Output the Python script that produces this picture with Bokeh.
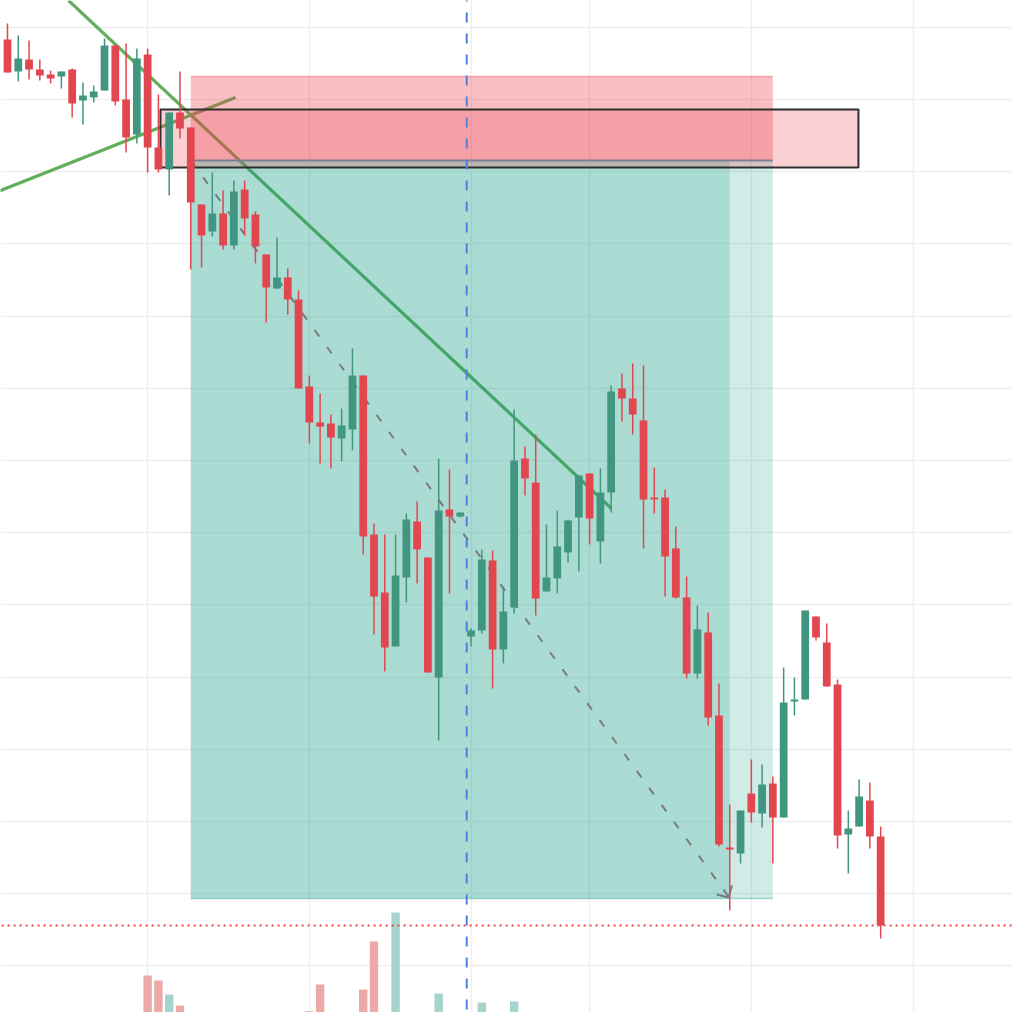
from bokeh.plotting import figure
from bokeh.models import Range1d, FixedTicker, ColumnDataSource
from bokeh.embed import file_html
from bokeh.resources import INLINE

# ---------------- data ----------------
opens = [106.1, 102.9, 104.1, 103.1, 102.6, 102.4, 103.1, 100.0, 100.3, 101.0,
         105.5, 100.1, 96.6, 104.6, 95.3, 93.1, 98.8, 97.3, 89.6, 86.9,
         88.7, 85.5, 91.1, 88.6, 84.6, 81.2, 82.3, 80.1, 71.4, 67.8,
         67.7, 66.2, 67.1, 72.5, 56.6, 50.8, 45.4, 52.3, 57.9, 54.3,
         42.3, 59.1, 58.4, 46.4, 47.0, 54.0, 45.1, 49.3, 64.2, 61.8,
         50.9, 52.2, 54.8, 58.3, 62.7, 55.9, 60.8, 71.2, 70.2, 68.0,
         60.3, 60.3, 55.2, 50.3, 42.7, 46.8, 38.5, 25.3, 24.7, 30.7,
         28.7, 31.7, 28.3, 39.9, 40.1, 48.4, 45.8, 41.6, 26.6, 27.4,
         30.0, 26.4]
highs = [107.7, 106.5, 106.0, 104.1, 103.0, 102.9, 103.2, 101.8, 101.5, 106.2,
         105.5, 105.7, 105.2, 105.2, 100.6, 98.8, 102.9, 97.3, 89.6, 92.8,
         91.0, 92.0, 92.0, 88.9, 84.6, 86.3, 83.2, 81.0, 72.5, 70.7,
         68.6, 69.2, 75.2, 72.5, 57.7, 56.6, 56.6, 58.7, 59.9, 54.3,
         64.2, 63.1, 58.8, 47.2, 55.1, 55.0, 51.4, 69.1, 65.4, 66.6,
         57.6, 59.0, 58.1, 62.5, 62.7, 63.2, 71.5, 72.7, 73.7, 73.5,
         63.3, 61.1, 57.4, 52.4, 49.5, 48.8, 41.7, 29.6, 29.0, 34.1,
         33.6, 32.4, 43.3, 42.3, 49.0, 48.4, 47.7, 42.1, 29.0, 32.1,
         31.8, 27.4]
lows = [102.8, 101.9, 102.1, 102.0, 101.7, 101.2, 98.3, 97.6, 99.8, 101.0,
        99.5, 94.8, 95.7, 92.8, 92.8, 90.5, 96.2, 83.1, 83.3, 86.4,
        85.1, 85.1, 86.5, 83.7, 77.8, 81.2, 78.6, 71.2, 65.7, 63.7,
        63.2, 63.9, 65.0, 54.6, 46.6, 42.9, 45.4, 49.8, 51.7, 42.8,
        36.0, 50.7, 58.3, 45.4, 46.7, 41.2, 43.7, 48.7, 60.5, 48.5,
        50.9, 50.7, 53.8, 52.9, 55.6, 53.7, 58.8, 67.9, 66.6, 55.2,
        58.7, 50.4, 50.2, 42.2, 42.2, 37.5, 25.4, 19.0, 23.7, 27.8,
        27.3, 23.7, 28.3, 38.5, 40.1, 46.0, 41.4, 25.2, 22.7, 27.4,
        25.2, 16.2]
closes = [102.8, 104.2, 103.1, 102.5, 102.2, 102.9, 99.7, 100.5, 100.9, 105.5,
          99.9, 96.3, 104.2, 95.3, 93.1, 98.8, 97.2, 89.8, 86.5, 88.7,
          85.5, 90.9, 88.2, 85.4, 81.3, 82.3, 80.1, 71.2, 67.8, 67.4,
          66.3, 67.5, 72.5, 56.4, 50.4, 45.3, 52.5, 58.1, 55.1, 42.8,
          59.0, 58.4, 58.8, 47.0, 54.1, 45.1, 48.9, 64.0, 62.2, 50.2,
          52.3, 55.4, 58.0, 62.5, 58.2, 60.8, 70.9, 70.2, 68.6, 60.1,
          60.1, 54.4, 50.3, 42.7, 47.1, 38.3, 25.6, 25.1, 29.0, 28.8,
          31.6, 28.3, 39.8, 40.1, 49.0, 46.3, 41.4, 26.5, 27.2, 30.4,
          26.4, 17.5]
volumes = [30, 22, 18, 15, 12, 14, 28, 25, 16, 34,
           36, 31, 34, 66.5, 63.8, 56.4, 50.5, 35, 32, 20,
           24, 22, 19, 26, 30, 18, 24, 33, 47.5, 61.7,
           34, 26, 36, 59.0, 84.6, 41.0, 100, 35, 28, 32,
           56.9, 33, 14, 22, 52.1, 37, 28, 52.7, 27, 36,
           22, 24, 18, 28, 26, 30, 30, 24, 26, 34,
           18, 30, 28, 35, 30, 36, 33, 43.6, 35, 28,
           25, 30, 31, 20, 34, 22, 26, 29, 24, 22,
           26, 36]

# drawing tools (bar index, price)
stop_top = 102.4
entry_price = 94.0
target_price = 20.2
pos_start, pos_hit, pos_end = 17, 67, 71
rect_left, rect_right, rect_bottom, rect_top = 14.19, 78.94, 93.3, 99.1
trend_a = ([5.66, 56.03], [110.0, 59.2])
trend_b = ([-1.0, 21.15], [90.85, 100.3])
cursor_bar = 42.6
last_price = 17.5
price_grid = [107.3, 100.1, 92.9, 85.7, 78.4, 71.2, 64.0, 56.8, 49.6, 42.3, 35.1, 27.9, 20.7, 13.5]
time_grid = [13, 28, 43, 54, 69, 84]

UP = "#41967F"
DOWN = "#E2474F"
UP_VOL = "#A5D4CD"
DOWN_VOL = "#EBAAA8"

n = len(opens)
idx = list(range(n))
is_up = [c >= o for o, c in zip(opens, closes)]
tops, bots = [], []
for o, c in zip(opens, closes):
    t, b = max(o, c), min(o, c)
    if t - b < 0.15:
        m = (t + b) / 2
        t, b = m + 0.08, m - 0.08
    tops.append(t)
    bots.append(b)
colors = [UP if u else DOWN for u in is_up]
vcolors = [UP_VOL if u else DOWN_VOL for u in is_up]

src = ColumnDataSource(dict(x=idx, o=opens, h=highs, l=lows, c=closes,
                            top=tops, bot=bots, color=colors,
                            vol=volumes, vcolor=vcolors))

p = figure(width=1012, height=1012, output_backend="svg", toolbar_location=None,
           x_range=Range1d(-0.649, 93.23), y_range=Range1d(8.8, 110.0),
           min_border=0)
p.xaxis.visible = False
p.yaxis.visible = False
p.outline_line_color = None
p.background_fill_color = "white"
p.border_fill_color = "white"
p.xgrid.ticker = FixedTicker(ticks=time_grid)
p.ygrid.ticker = FixedTicker(ticks=price_grid)
p.xgrid.grid_line_color = "#EEEEEE"
p.ygrid.grid_line_color = "#EEEEEE"
p.xgrid.grid_line_width = 1.5
p.ygrid.grid_line_width = 1.5

p.extra_y_ranges = {"vol": Range1d(46.81, 585.11)}

# volume
p.vbar(x="x", top="vol", bottom=0, width=0.78, fill_color="vcolor",
       line_color=None, source=src, y_range_name="vol")

# trend lines (under the position overlays)
p.line(trend_a[0], trend_a[1], line_color="#62AE5C", line_width=3.2)
p.line(trend_b[0], trend_b[1], line_color="#62AE5C", line_width=3.2)

# short position tool
p.quad(left=pos_start, right=pos_end, bottom=entry_price, top=stop_top,
       fill_color="#EB3A48", fill_alpha=0.32, line_color=None)
p.segment(x0=pos_start, x1=pos_end, y0=stop_top, y1=stop_top,
          line_color="#F23645", line_alpha=0.35, line_width=1.5)
p.quad(left=pos_start, right=pos_hit, bottom=target_price, top=entry_price,
       fill_color="#089981", fill_alpha=0.34, line_color=None)
p.quad(left=pos_hit, right=pos_end, bottom=target_price, top=entry_price,
       fill_color="#089981", fill_alpha=0.19, line_color=None)
p.segment(x0=pos_start, x1=pos_end, y0=target_price, y1=target_price,
          line_color="#089981", line_alpha=0.35, line_width=1.5)

# rectangle
p.quad(left=rect_left, right=rect_right, bottom=rect_bottom, top=rect_top,
       fill_color="#EB3A48", fill_alpha=0.24, line_color="#2E2E2E", line_width=2)

# entry line
p.segment(x0=pos_start, x1=pos_end, y0=entry_price, y1=entry_price,
          line_color="#7C8192", line_width=2)

# dashed path entry -> target with arrowhead
p.line([pos_start, pos_hit - 0.15], [entry_price, target_price + 0.25],
       line_color="#7A7A80", line_width=2, line_dash="8 13")
p.segment(x0=[pos_hit - 0.1, pos_hit - 0.1], y0=[target_price + 0.1, target_price + 0.1],
          x1=[pos_hit - 1.2, pos_hit + 0.2], y1=[target_price + 0.4, target_price + 1.3],
          line_color="#7A7A80", line_width=2)

# cursor vertical dashed line
p.line([cursor_bar, cursor_bar], [110.9, 0], line_color="#4F80DE",
       line_width=2, line_dash="10 11")

# last price dotted line
p.line([-5, 100], [last_price, last_price], line_color="#E2474F",
       line_width=2, line_dash="2 4")

# candles
p.segment(x0="x", x1="x", y0="h", y1="l", line_color="color", line_width=1.5, source=src)
p.vbar(x="x", top="top", bottom="bot", width=0.72, fill_color="color",
       line_color=None, source=src)

open("out.html", "w").write(file_html(p, INLINE))
